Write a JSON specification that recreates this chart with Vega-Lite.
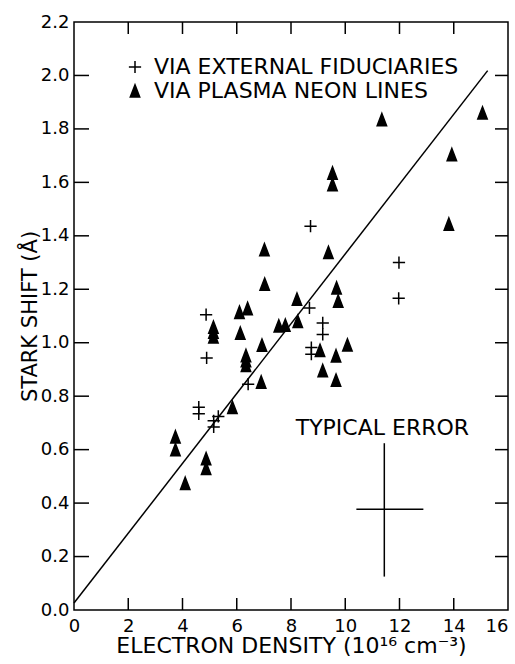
{
  "$schema": "https://vega.github.io/schema/vega-lite/v6.json",
  "width": 434,
  "height": 588,
  "autosize": {"type": "none"},
  "padding": {"left": 74, "top": 22, "right": 7, "bottom": 54},
  "background": "white",
  "config": {
    "font": "DejaVu Sans",
    "view": {"stroke": "black", "strokeWidth": 1.5},
    "axis": {"domain": false, "grid": false, "ticks": false, "tickSize": 0, "labelColor": "black", "titleColor": "black", "labelFont": "DejaVu Sans", "titleFont": "DejaVu Sans", "titleFontWeight": "normal"}
  },
  "resolve": {"axis": {"x": "independent", "y": "independent"}},
  "datasets": {
    "points": [
      {"density": 4.87, "shift": 1.105, "method": "VIA EXTERNAL FIDUCIARIES"},
      {"density": 4.89, "shift": 0.943, "method": "VIA EXTERNAL FIDUCIARIES"},
      {"density": 4.6, "shift": 0.759, "method": "VIA EXTERNAL FIDUCIARIES"},
      {"density": 4.6, "shift": 0.734, "method": "VIA EXTERNAL FIDUCIARIES"},
      {"density": 5.15, "shift": 0.708, "method": "VIA EXTERNAL FIDUCIARIES"},
      {"density": 5.15, "shift": 0.685, "method": "VIA EXTERNAL FIDUCIARIES"},
      {"density": 5.32, "shift": 0.724, "method": "VIA EXTERNAL FIDUCIARIES"},
      {"density": 6.42, "shift": 0.845, "method": "VIA EXTERNAL FIDUCIARIES"},
      {"density": 8.72, "shift": 1.436, "method": "VIA EXTERNAL FIDUCIARIES"},
      {"density": 8.68, "shift": 1.13, "method": "VIA EXTERNAL FIDUCIARIES"},
      {"density": 9.17, "shift": 1.074, "method": "VIA EXTERNAL FIDUCIARIES"},
      {"density": 9.17, "shift": 1.031, "method": "VIA EXTERNAL FIDUCIARIES"},
      {"density": 8.75, "shift": 0.982, "method": "VIA EXTERNAL FIDUCIARIES"},
      {"density": 8.75, "shift": 0.957, "method": "VIA EXTERNAL FIDUCIARIES"},
      {"density": 11.98, "shift": 1.3, "method": "VIA EXTERNAL FIDUCIARIES"},
      {"density": 11.97, "shift": 1.166, "method": "VIA EXTERNAL FIDUCIARIES"},
      {"density": 3.74, "shift": 0.648, "method": "VIA PLASMA NEON LINES"},
      {"density": 3.74, "shift": 0.6, "method": "VIA PLASMA NEON LINES"},
      {"density": 4.1, "shift": 0.474, "method": "VIA PLASMA NEON LINES"},
      {"density": 4.87, "shift": 0.566, "method": "VIA PLASMA NEON LINES"},
      {"density": 4.87, "shift": 0.53, "method": "VIA PLASMA NEON LINES"},
      {"density": 5.14, "shift": 1.058, "method": "VIA PLASMA NEON LINES"},
      {"density": 5.14, "shift": 1.04, "method": "VIA PLASMA NEON LINES"},
      {"density": 5.14, "shift": 1.022, "method": "VIA PLASMA NEON LINES"},
      {"density": 5.84, "shift": 0.758, "method": "VIA PLASMA NEON LINES"},
      {"density": 6.1, "shift": 1.114, "method": "VIA PLASMA NEON LINES"},
      {"density": 6.4, "shift": 1.128, "method": "VIA PLASMA NEON LINES"},
      {"density": 6.13, "shift": 1.036, "method": "VIA PLASMA NEON LINES"},
      {"density": 6.34, "shift": 0.952, "method": "VIA PLASMA NEON LINES"},
      {"density": 6.34, "shift": 0.933, "method": "VIA PLASMA NEON LINES"},
      {"density": 6.34, "shift": 0.915, "method": "VIA PLASMA NEON LINES"},
      {"density": 6.9, "shift": 0.853, "method": "VIA PLASMA NEON LINES"},
      {"density": 6.93, "shift": 0.991, "method": "VIA PLASMA NEON LINES"},
      {"density": 7.02, "shift": 1.348, "method": "VIA PLASMA NEON LINES"},
      {"density": 7.03, "shift": 1.219, "method": "VIA PLASMA NEON LINES"},
      {"density": 7.55, "shift": 1.063, "method": "VIA PLASMA NEON LINES"},
      {"density": 7.79, "shift": 1.066, "method": "VIA PLASMA NEON LINES"},
      {"density": 8.25, "shift": 1.08, "method": "VIA PLASMA NEON LINES"},
      {"density": 8.22, "shift": 1.163, "method": "VIA PLASMA NEON LINES"},
      {"density": 9.38, "shift": 1.338, "method": "VIA PLASMA NEON LINES"},
      {"density": 9.53, "shift": 1.635, "method": "VIA PLASMA NEON LINES"},
      {"density": 9.53, "shift": 1.592, "method": "VIA PLASMA NEON LINES"},
      {"density": 9.68, "shift": 1.205, "method": "VIA PLASMA NEON LINES"},
      {"density": 9.74, "shift": 1.156, "method": "VIA PLASMA NEON LINES"},
      {"density": 9.07, "shift": 0.971, "method": "VIA PLASMA NEON LINES"},
      {"density": 9.66, "shift": 0.951, "method": "VIA PLASMA NEON LINES"},
      {"density": 10.08, "shift": 0.992, "method": "VIA PLASMA NEON LINES"},
      {"density": 9.17, "shift": 0.896, "method": "VIA PLASMA NEON LINES"},
      {"density": 9.66, "shift": 0.86, "method": "VIA PLASMA NEON LINES"},
      {"density": 11.35, "shift": 1.835, "method": "VIA PLASMA NEON LINES"},
      {"density": 15.06, "shift": 1.86, "method": "VIA PLASMA NEON LINES"},
      {"density": 13.93, "shift": 1.704, "method": "VIA PLASMA NEON LINES"},
      {"density": 13.82, "shift": 1.444, "method": "VIA PLASMA NEON LINES"}
    ],
    "fit": [
      {"density": 0, "shift": 0.026},
      {"density": 15.25, "shift": 2.018}
    ],
    "error": [
      {"x": 11.44, "x2": 11.44, "y": 0.125, "y2": 0.624},
      {"x": 10.41, "x2": 12.88, "y": 0.377, "y2": 0.377}
    ],
    "note": [
      {"x": 11.37, "y": 0.68, "label": "TYPICAL ERROR"}
    ],
    "xticks": [
      {"v": 2}, {"v": 4}, {"v": 6}, {"v": 8}, {"v": 10}, {"v": 12}, {"v": 14}
    ],
    "yticks": [
      {"v": 0.2}, {"v": 0.4}, {"v": 0.6}, {"v": 0.8}, {"v": 1.0}, {"v": 1.2}, {"v": 1.4}, {"v": 1.6}, {"v": 1.8}, {"v": 2.0}
    ]
  },
  "layer": [
    {
      "data": {"name": "points"},
      "mark": {"type": "point", "filled": true, "stroke": "black", "strokeWidth": 1.5, "size": 150, "opacity": 1},
      "encoding": {
        "x": {"field": "density", "type": "quantitative",
          "scale": {"domain": [0, 16], "nice": false, "zero": false},
          "axis": {"orient": "bottom", "values": [0, 2, 4, 6, 8, 10, 12, 14, 16], "labelPadding": 7, "labelFontSize": 18, "labelFlush": false, "labelOverlap": false,
            "labelAlign": {"condition": {"test": "datum.value == 16", "value": "right"}, "value": "center"},
            "title": "ELECTRON DENSITY (10¹⁶ cm⁻³)", "titleFontSize": 22, "titlePadding": 0}},
        "y": {"field": "shift", "type": "quantitative",
          "scale": {"domain": [0, 2.2], "nice": false, "zero": false},
          "axis": {"orient": "left", "values": [0, 0.2, 0.4, 0.6, 0.8, 1.0, 1.2, 1.4, 1.6, 1.8, 2.0, 2.2], "format": ".1f", "labelPadding": 5, "labelFontSize": 18, "labelFlush": false, "labelOverlap": false, "title": "STARK SHIFT (Å)", "titleFontSize": 21, "titlePadding": 0}},
        "shape": {"field": "method", "type": "nominal",
          "scale": {"domain": ["VIA EXTERNAL FIDUCIARIES", "VIA PLASMA NEON LINES"], "range": ["M-1,0H1M0,-1V1", "M0,-1L0.77,1L-0.77,1Z"]},
          "legend": {"orient": "none", "legendX": 50, "legendY": 34, "title": null, "labelFontSize": 22, "labelFont": "DejaVu Sans", "labelColor": "black", "labelLimit": 0, "labelOffset": 8, "rowPadding": 2, "symbolSize": 150, "padding": 0,
            "encode": {"symbols": {"update": {"stroke": {"value": "black"}, "strokeWidth": {"value": 1.5}}}}}},
        "fill": {"field": "method", "type": "nominal",
          "scale": {"domain": ["VIA EXTERNAL FIDUCIARIES", "VIA PLASMA NEON LINES"], "range": ["transparent", "black"]},
          "legend": {"orient": "none", "legendX": 50, "legendY": 34, "title": null, "labelFontSize": 22, "labelFont": "DejaVu Sans", "labelColor": "black", "labelLimit": 0, "labelOffset": 8, "rowPadding": 2, "symbolSize": 150, "padding": 0,
            "encode": {"symbols": {"update": {"stroke": {"value": "black"}, "strokeWidth": {"value": 1.5}}}}}}
      }
    },
    {
      "data": {"name": "fit"},
      "mark": {"type": "line", "color": "black", "strokeWidth": 1.5},
      "encoding": {
        "x": {"field": "density", "type": "quantitative", "axis": null},
        "y": {"field": "shift", "type": "quantitative", "axis": null}
      }
    },
    {
      "data": {"name": "xticks"},
      "mark": {"type": "tick", "orient": "vertical", "size": 12, "thickness": 1.5, "color": "black", "opacity": 1, "yOffset": -6},
      "encoding": {
        "x": {"field": "v", "type": "quantitative", "axis": null},
        "y": {"datum": 0, "type": "quantitative", "axis": null}
      }
    },
    {
      "data": {"name": "xticks"},
      "mark": {"type": "tick", "orient": "vertical", "size": 12, "thickness": 1.5, "color": "black", "opacity": 1, "yOffset": 6},
      "encoding": {
        "x": {"field": "v", "type": "quantitative", "axis": null},
        "y": {"datum": 2.2, "type": "quantitative", "axis": null}
      }
    },
    {
      "data": {"name": "yticks"},
      "mark": {"type": "tick", "orient": "horizontal", "size": 15, "thickness": 1.5, "color": "black", "opacity": 1, "xOffset": 7.5},
      "encoding": {
        "y": {"field": "v", "type": "quantitative", "axis": null},
        "x": {"datum": 0, "type": "quantitative", "axis": null}
      }
    },
    {
      "data": {"name": "yticks"},
      "mark": {"type": "tick", "orient": "horizontal", "size": 13, "thickness": 1.5, "color": "black", "opacity": 1, "xOffset": -6.5},
      "encoding": {
        "y": {"field": "v", "type": "quantitative", "axis": null},
        "x": {"datum": 16, "type": "quantitative", "axis": null}
      }
    },
    {
      "data": {"name": "error"},
      "mark": {"type": "rule", "color": "black", "strokeWidth": 1.5},
      "encoding": {
        "x": {"field": "x", "type": "quantitative", "axis": null},
        "x2": {"field": "x2"},
        "y": {"field": "y", "type": "quantitative", "axis": null},
        "y2": {"field": "y2"}
      }
    },
    {
      "data": {"name": "note"},
      "mark": {"type": "text", "font": "DejaVu Sans", "fontSize": 22, "color": "black", "align": "center", "baseline": "middle"},
      "encoding": {
        "x": {"field": "x", "type": "quantitative", "axis": null},
        "y": {"field": "y", "type": "quantitative", "axis": null},
        "text": {"field": "label"}
      }
    }
  ]
}
